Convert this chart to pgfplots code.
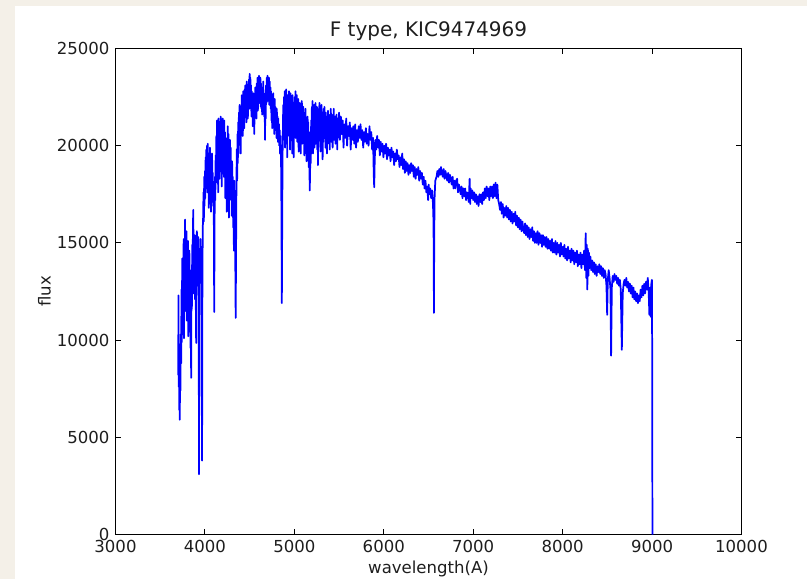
\documentclass[border=0pt]{standalone}
\usepackage{fontspec}
\setmainfont{DejaVu Sans}
\usepackage{pgfplots}
\pgfplotsset{compat=1.18}
\definecolor{beige}{RGB}{244,240,232}
\definecolor{txt}{RGB}{30,30,30}
\begin{document}
\begin{tikzpicture}
\fill[beige] (-86.625pt,-33.375pt) rectangle (518.625pt,400.875pt);
\fill[white] (-75.375pt,-33.375pt) rectangle (518.625pt,396.375pt);
\begin{axis}[
  at={(0pt,0pt)}, anchor=south west,
  scale only axis, width=469.5pt, height=364.5pt,
  xmin=3000, xmax=10000, ymin=0, ymax=25000,
  xtick={3000,4000,...,10000}, ytick={0,5000,...,25000},
  scaled ticks=false,
  /pgf/number format/.cd, 1000 sep={}, assume math mode=true, /pgfplots/.cd,
  tick align=inside, tick pos=both,
  major tick length=4.2pt,
  axis line style={line width=0.9pt, black},
  every tick/.style={black, line width=0.7pt},
  tick label style={font=\fontsize{12.4}{14}\selectfont, text=txt},
  yticklabel style={anchor=east, xshift=-1pt},
  xticklabel style={anchor=north, yshift=-0.5pt},
  label style={font=\fontsize{12.4}{14}\selectfont, text=txt},
  title style={font=\fontsize{15}{17}\selectfont, text=txt, at={(axis description cs:0.5,1.0082)}, anchor=base},
  xlabel style={at={(axis description cs:0.5,-0.0803)}, anchor=base},
  ylabel style={at={(axis description cs:-0.1038,0.5)}, anchor=base, rotate=0},
  title={F type, KIC9474969},
  xlabel={wavelength(A)},
  ylabel={flux},
]
\addplot[color={rgb,255:red,0;green,0;blue,255}, line width=1.3pt, line join=round] coordinates {
(3702,8200)(3704,12300)(3707,7600)(3710,9800)(3713,6400)(3716,9400)(3719,5900)(3722,8600)(3726,7400)(3730,10300)
(3734,8800)(3738,12600)(3742,9900)(3746,14200)(3750,10500)(3754,13600)(3758,11800)(3762,15200)(3766,10100)(3770,13900)
(3774,12200)(3778,16200)(3782,11500)(3786,14800)(3790,12800)(3794,15600)(3798,11000)(3802,14300)(3806,12500)(3810,15100)
(3814,10200)(3818,13900)(3822,12700)(3826,14600)(3830,11900)(3834,13600)(3838,9600)(3842,12900)(3846,8060)(3850,13400)
(3854,11600)(3858,14900)(3862,12600)(3866,15900)(3870,16700)(3874,12400)(3878,14800)(3882,13200)(3886,15400)(3890,12100)
(3894,14600)(3898,11900)(3902,9850)(3906,13800)(3910,15600)(3914,12800)(3918,14900)(3922,13600)(3926,15300)(3930,12400)
(3934,3100)(3938,12900)(3942,14600)(3946,13300)(3950,15200)(3956,14100)(3962,12800)(3968,3800)(3972,13200)(3976,15800)
(3980,16300)(3984,17600)(3988,16100)(3992,18400)(3996,16900)(4000,18700)(4004,17300)(4008,19400)(4012,17800)(4016,19800)
(4020,18300)(4024,20000)(4028,17600)(4032,20100)(4036,18400)(4040,19200)(4044,16800)(4048,19600)(4052,18100)(4056,19900)
(4060,17400)(4064,18800)(4068,16600)(4072,19400)(4076,18200)(4080,19600)(4084,17300)(4088,18600)(4092,16900)(4096,17800)
(4100,15900)(4104,11450)(4108,16200)(4112,18400)(4116,17200)(4120,19500)(4124,18100)(4128,20500)(4132,18800)(4136,21300)
(4140,19200)(4144,20900)(4148,17600)(4152,21400)(4156,19500)(4160,20800)(4164,18300)(4168,21200)(4172,19700)(4176,21500)
(4180,18900)(4184,20600)(4188,17900)(4192,21100)(4196,19300)(4200,21400)(4204,19800)(4208,20900)(4212,18400)(4216,21300)
(4220,19100)(4224,20700)(4228,17300)(4232,20400)(4236,18600)(4240,19800)(4244,16600)(4248,20200)(4252,18400)(4256,21000)
(4260,17900)(4264,20600)(4268,16300)(4272,19800)(4276,18700)(4280,20300)(4284,17600)(4288,19900)(4292,17200)(4296,18800)
(4300,16400)(4304,19200)(4308,17100)(4312,18400)(4316,15800)(4320,17900)(4324,14600)(4328,18200)(4332,16800)(4336,15200)
(4340,13800)(4344,11140)(4348,14400)(4352,17600)(4356,19800)(4360,18200)(4364,20600)(4368,19100)(4372,21200)(4376,19600)
(4380,21700)(4384,20300)(4388,22100)(4392,20800)(4396,21400)(4400,19600)(4404,22000)(4408,20700)(4412,22600)(4416,21100)
(4420,22300)(4424,20500)(4428,22800)(4432,21300)(4436,22200)(4440,20900)(4444,22900)(4448,21600)(4452,23100)(4456,21800)
(4460,22700)(4464,21200)(4468,23300)(4472,22100)(4476,23000)(4480,21400)(4484,22600)(4488,22000)(4492,23400)(4496,21900)
(4500,23700)(4504,22200)(4508,23500)(4512,22400)(4516,23100)(4520,21500)(4524,22800)(4528,21800)(4532,22400)(4536,21000)
(4540,22700)(4544,21900)(4548,22300)(4552,20600)(4556,22500)(4560,21700)(4564,23000)(4568,22100)(4572,22700)(4576,21400)
(4580,23200)(4584,22300)(4588,23500)(4592,21800)(4596,23300)(4600,22400)(4604,23600)(4608,22200)(4612,23400)(4616,22600)
(4620,23500)(4624,22000)(4628,23200)(4632,21900)(4636,22800)(4640,21600)(4644,22900)(4648,22100)(4652,23300)(4656,22300)
(4660,22700)(4664,21500)(4668,22400)(4672,20300)(4676,22600)(4680,21400)(4684,23100)(4688,22200)(4692,23500)(4696,22500)
(4700,23600)(4704,22300)(4708,23400)(4712,22700)(4716,23500)(4720,22100)(4724,23300)(4728,22400)(4732,23000)(4736,21900)
(4740,22800)(4744,21300)(4748,22600)(4752,20900)(4756,22400)(4760,21500)(4764,22700)(4768,21000)(4772,22200)(4776,20600)
(4780,22400)(4784,21200)(4788,22000)(4792,20900)(4796,21700)(4800,20400)(4804,21900)(4808,20800)(4812,21500)(4816,20200)
(4820,21400)(4824,20700)(4828,21100)(4832,20000)(4836,20800)(4840,19600)(4844,20500)(4848,19800)(4852,18900)(4856,16400)
(4860,11900)(4864,15800)(4868,19400)(4872,20900)(4876,22100)(4880,21000)(4884,22500)(4888,20300)(4892,22800)(4896,19900)
(4900,22600)(4904,21100)(4908,22900)(4912,20700)(4916,22300)(4920,19400)(4924,22600)(4928,20900)(4932,22400)(4936,21300)
(4940,22800)(4944,20500)(4948,22300)(4952,19800)(4956,22700)(4960,21100)(4964,22500)(4968,20300)(4972,22100)(4976,19600)
(4980,22600)(4984,20800)(4988,22200)(4992,19400)(4996,21900)(5000,20600)(5004,22500)(5008,21200)(5012,22800)(5016,20400)
(5020,22300)(5024,21000)(5028,22600)(5032,20200)(5036,22100)(5040,20900)(5044,22400)(5048,19700)(5052,21800)(5056,20500)
(5060,22200)(5064,20800)(5068,21900)(5072,19600)(5076,22000)(5080,20700)(5084,22300)(5088,20100)(5092,21700)(5096,20400)
(5100,22000)(5104,20900)(5108,21600)(5112,19500)(5116,21400)(5120,20200)(5124,21900)(5128,20500)(5132,21300)(5136,19200)
(5140,21100)(5144,19800)(5148,21500)(5152,20300)(5156,21200)(5160,18900)(5164,20700)(5168,19300)(5172,17700)(5176,18600)
(5180,20600)(5184,19100)(5188,21300)(5192,20100)(5196,22000)(5200,20600)(5204,22300)(5208,19600)(5212,21800)(5216,20400)
(5220,22100)(5224,19900)(5228,21500)(5232,20800)(5236,22200)(5240,20100)(5244,21700)(5248,20600)(5252,22000)(5256,19800)
(5260,21400)(5264,19000)(5268,20900)(5272,21900)(5276,20300)(5280,22200)(5284,20900)(5288,21600)(5292,19700)(5296,21800)
(5300,20500)(5304,22100)(5308,20800)(5312,21500)(5316,19300)(5320,21200)(5324,20200)(5328,21900)(5332,20600)(5336,22000)
(5340,20400)(5344,21400)(5348,19900)(5352,21700)(5356,20500)(5360,21200)(5364,19600)(5368,21500)(5372,20300)(5376,21800)
(5380,20700)(5384,21600)(5388,20100)(5392,21300)(5396,19800)(5400,21600)(5404,20600)(5408,21900)(5412,20200)(5416,21500)
(5420,20800)(5424,21200)(5428,19900)(5432,21600)(5436,20500)(5440,21900)(5444,20300)(5448,21300)(5452,20700)(5456,21500)
(5460,20100)(5464,21200)(5468,20500)(5472,21600)(5476,20800)(5480,19800)(5484,21400)(5488,20400)(5492,21100)(5496,20600)
(5500,21700)(5510,20300)(5520,21500)(5530,20600)(5540,21300)(5550,19900)(5560,21100)(5570,20400)(5580,21400)(5590,20000)
(5600,21000)(5610,20500)(5620,21200)(5630,19800)(5640,20900)(5650,20300)(5660,21000)(5670,20100)(5680,21100)(5690,19900)
(5700,20800)(5710,20200)(5720,21000)(5730,20400)(5740,21100)(5750,20300)(5760,20800)(5770,19900)(5780,20700)(5790,20200)
(5800,20900)(5810,20100)(5820,20600)(5830,20000)(5840,21000)(5850,20300)(5860,20700)(5870,19800)(5880,20400)(5888,18500)
(5893,17860)(5898,19100)(5906,20300)(5916,19800)(5926,20500)(5936,19900)(5946,20300)(5956,19500)(5966,20200)(5976,19700)
(5986,20100)(5996,19400)(6006,20000)(6016,19600)(6026,20100)(6036,19300)(6046,19900)(6056,19500)(6066,19800)(6076,19200)
(6086,19900)(6096,19400)(6106,19700)(6116,19000)(6126,19600)(6136,19200)(6146,19800)(6156,19300)(6166,19500)(6176,18900)
(6186,19400)(6196,19000)(6206,19600)(6216,18800)(6226,19300)(6236,18600)(6246,19200)(6256,18700)(6266,19100)(6276,18500)
(6286,19000)(6296,18600)(6306,19100)(6316,18700)(6326,19000)(6336,18400)(6346,18900)(6356,18300)(6366,18800)(6376,18500)
(6386,18900)(6396,18200)(6406,18700)(6416,18300)(6426,18600)(6436,18000)(6446,18400)(6456,17800)(6466,18200)(6476,17600)
(6486,17900)(6496,17200)(6502,18000)(6510,17500)(6520,17800)(6530,17300)(6540,17700)(6548,17200)(6554,16500)(6558,15000)
(6561,11400)(6564,15200)(6568,17300)(6576,18200)(6590,18400)(6600,18700)(6610,18400)(6620,18800)(6630,18500)(6640,18900)
(6650,18600)(6660,18400)(6670,18800)(6680,18300)(6690,18700)(6700,18400)(6710,18200)(6720,18600)(6730,18100)(6740,18500)
(6750,18300)(6760,18000)(6770,18400)(6780,17800)(6790,18200)(6800,17800)(6810,18200)(6820,18300)(6830,17600)(6840,18000)
(6850,17800)(6860,17500)(6870,17900)(6880,17300)(6890,17800)(6900,17400)(6910,17800)(6920,17200)(6930,17600)(6940,17500)
(6950,17100)(6960,18300)(6966,17000)(6972,17800)(6980,17300)(6990,17700)(7000,17200)(7010,17600)(7020,17100)(7030,17500)
(7040,17000)(7050,17400)(7060,16900)(7070,17500)(7080,17100)(7090,17500)(7100,17000)(7110,17600)(7120,17200)(7130,17800)
(7140,17300)(7150,17900)(7160,17400)(7170,17800)(7180,17200)(7190,17900)(7200,17400)(7210,17900)(7220,17300)(7230,18000)
(7240,17400)(7250,18100)(7260,17300)(7270,18000)(7280,17200)(7290,17000)(7300,16700)(7310,17100)(7320,16500)(7330,17000)
(7340,16300)(7350,16800)(7360,16400)(7370,16900)(7380,16300)(7390,16800)(7400,16200)(7410,16700)(7420,16100)(7430,16600)
(7440,16000)(7450,16500)(7460,16100)(7470,16600)(7480,15900)(7490,16400)(7500,15800)(7510,16300)(7520,15700)(7530,16200)
(7540,15600)(7550,16100)(7560,15700)(7570,15500)(7580,16000)(7590,15400)(7600,15900)(7610,15300)(7620,15800)(7630,15200)
(7640,15700)(7650,15300)(7660,15800)(7670,15100)(7680,15600)(7690,15000)(7700,15500)(7710,15000)(7720,15600)(7730,14900)
(7740,15500)(7750,15000)(7760,15400)(7770,14800)(7780,15400)(7790,14900)(7800,15300)(7810,14800)(7820,15300)(7830,14700)
(7840,15200)(7850,14700)(7860,15100)(7870,14600)(7880,15200)(7890,14500)(7900,15000)(7910,14500)(7920,15100)(7930,14400)
(7940,15000)(7950,14500)(7960,14900)(7970,14300)(7980,15000)(7990,14400)(8000,14800)(8010,14300)(8020,14900)(8030,14200)
(8040,14700)(8050,14100)(8060,14800)(8070,14200)(8080,14600)(8090,14000)(8100,14700)(8110,14100)(8120,14600)(8130,13900)
(8140,14500)(8150,14000)(8160,14600)(8170,13800)(8180,14400)(8190,13900)(8200,14500)(8210,13700)(8220,14400)(8230,13900)
(8240,14600)(8250,13600)(8258,15500)(8264,13200)(8270,14900)(8276,12600)(8282,14700)(8288,13300)(8294,14500)(8300,13700)
(8310,14300)(8320,13600)(8330,14100)(8340,13500)(8350,14000)(8360,13400)(8370,13900)(8380,13300)(8390,13800)(8400,13500)
(8410,13900)(8420,13400)(8430,13800)(8440,13300)(8450,13700)(8460,13200)(8470,13600)(8480,13400)(8490,12800)(8498,11300)
(8505,13100)(8515,13600)(8525,13200)(8535,12600)(8542,9200)(8550,12700)(8560,13300)(8570,13000)(8580,13400)(8590,13100)
(8600,13300)(8610,12900)(8620,13200)(8630,12800)(8640,13100)(8650,12600)(8662,9500)(8672,12400)(8682,12900)(8692,13100)
(8702,12800)(8712,13200)(8722,12700)(8732,13000)(8742,12500)(8752,12900)(8762,12400)(8772,12800)(8782,12200)(8792,12700)
(8802,12100)(8812,12500)(8822,12000)(8832,12400)(8842,11900)(8852,12300)(8862,12000)(8872,12600)(8882,12200)(8892,12800)
(8902,12300)(8912,12900)(8922,12400)(8932,13000)(8942,12600)(8952,13200)(8962,12500)(8970,11300)(8978,12700)(8986,11200)
(8992,12900)(8998,13100)(9002,8800)(9004,0)
};
\end{axis}
\pgfresetboundingbox
\useasboundingbox (-86.625pt,-33.375pt) rectangle (518.625pt,400.875pt);
\end{tikzpicture}
\end{document}
